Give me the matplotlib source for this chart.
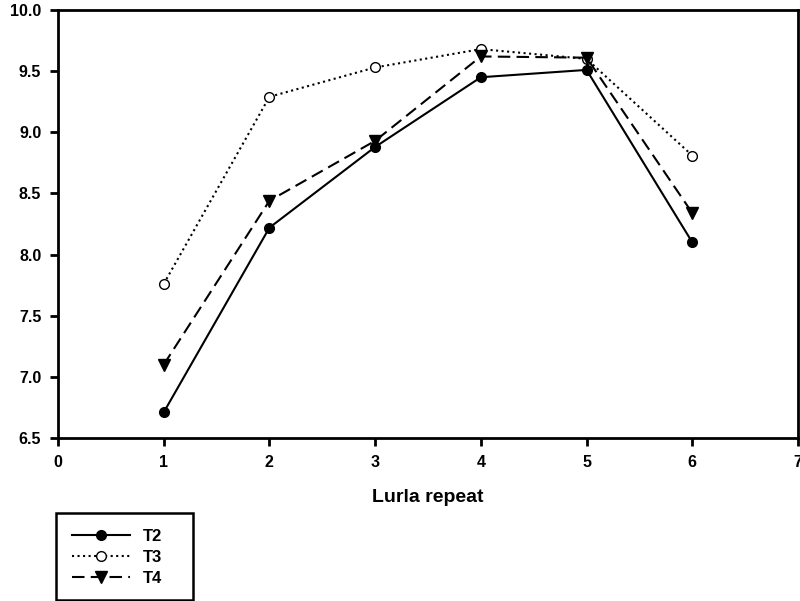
import matplotlib
matplotlib.use("Agg")
import matplotlib.pyplot as plt
from matplotlib.patches import Rectangle

x = [1, 2, 3, 4, 5, 6]
t2 = [6.71, 8.22, 8.88, 9.45, 9.51, 8.10]
t3 = [7.76, 9.29, 9.53, 9.68, 9.60, 8.81]
t4 = [7.10, 8.44, 8.93, 9.62, 9.61, 8.34]
labels = ["T2", "T3", "T4"]

plt.rcParams['font.family'] = ['Liberation Sans', 'DejaVu Sans']

fig = plt.figure(figsize=(8, 6.01), dpi=100)
ax = fig.add_axes([0.0725, 0.2712, 0.925, 0.7122])

l1, = ax.plot(x, t2, '-', color='black', lw=1.5, marker='o', ms=7, mfc='black', label=labels[0])
l2, = ax.plot(x, t3, ':', color='black', lw=1.5, marker='o', ms=7, mfc='white', label=labels[1])
l3, = ax.plot(x, t4, '--', color='black', lw=1.5, marker='v', ms=8, mfc='black', dashes=(6, 3), label=labels[2])

ax.set_xlim(0, 7)
ax.set_ylim(6.5, 10.0)
ax.set_xticks(range(0, 8))
ax.set_yticks([6.5, 7.0, 7.5, 8.0, 8.5, 9.0, 9.5, 10.0])
ax.set_yticklabels(["6.5", "7.0", "7.5", "8.0", "8.5", "9.0", "9.5", "10.0"])
for s in ax.spines.values():
    s.set_linewidth(2)
ax.tick_params(direction='out', length=6, width=2, labelsize=11.5, pad=6)
for lab in ax.get_xticklabels() + ax.get_yticklabels():
    lab.set_fontweight('bold')
ax.set_xlabel("Lurla repeat", fontsize=14, fontweight='bold', labelpad=14)

# legend box
fig.add_artist(Rectangle((56 / 800, 1 / 601), 137 / 800, 87 / 601, transform=fig.transFigure,
                         fill=False, edgecolor='black', linewidth=1.8))
leg = fig.legend(handles=[l1, l2, l3], loc='upper left', bbox_to_anchor=(0.09, 1 - 529 / 601),
                 frameon=False, prop={'size': 12, 'weight': 'bold'},
                 handlelength=3.5, handletextpad=0.75, borderpad=0, labelspacing=0.36,
                 borderaxespad=0)

fig.savefig("out.png", dpi=100)
